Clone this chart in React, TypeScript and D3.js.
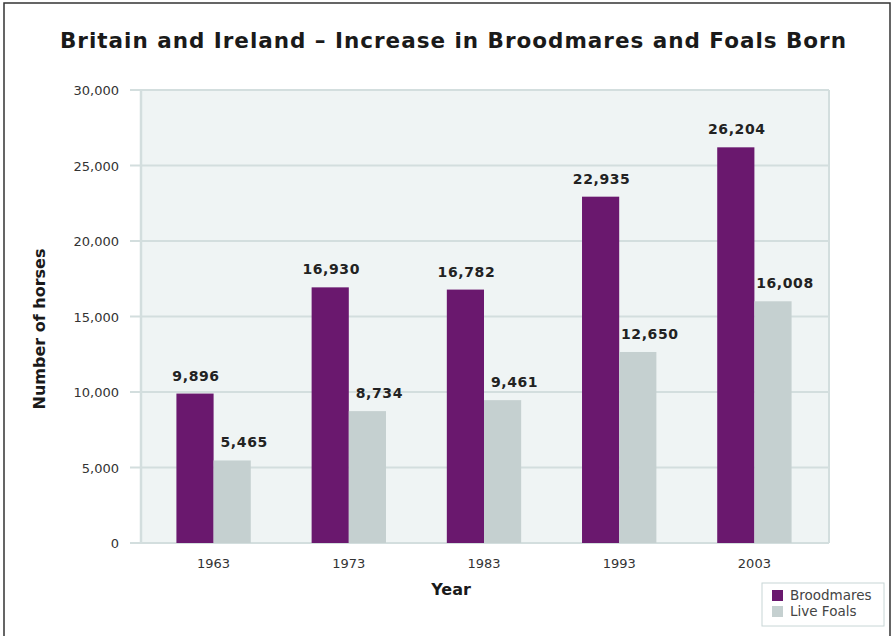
import React from "react";
import { scaleBand, scaleLinear, format } from "d3";

const years = ["1963", "1973", "1983", "1993", "2003"];
const broodmares = [9896, 16930, 16782, 22935, 26204];
const liveFoals = [5465, 8734, 9461, 12650, 16008];
const yTicks = [0, 5000, 10000, 15000, 20000, 25000, 30000];
const seriesNames = ["Broodmares", "Live Foals"];

const width = 892;
const height = 636;
const plotLeft = 141;
const plotRight = 829;
const plotTop = 90;
const plotBottom = 543;
const colors = ["#6a186e", "#c5d0d0"];
const labelShift = [1, 12];
const font = "'DejaVu Sans', Verdana, sans-serif";

export default function App() {
  const x = scaleBand<string>()
    .domain(years)
    .range([146, 822])
    .paddingInner(0.45)
    .paddingOuter(0.225);

  const sub = scaleBand<string>()
    .domain(seriesNames)
    .range([0, x.bandwidth()]);

  const y = scaleLinear().domain([0, 30000]).range([plotBottom, plotTop]);
  const fmt = format(",");

  const series = [broodmares, liveFoals];

  return (
    <div style={{ position: "absolute", left: 0, top: 0 }}>
      <svg width={width} height={height} style={{ display: "block" }} fontFamily={font}>
        <rect x={0} y={0} width={width} height={height} fill="#fff" />
        <rect x={4} y={3} width={886} height={650} fill="none" stroke="#333" strokeWidth={1.5} />

        <text
          x={60}
          y={48}
          fontSize={21.5}
          fontWeight="bold"
          fill="#1a1a1a"
          textLength={786}
          lengthAdjust="spacing"
        >
          Britain and Ireland – Increase in Broodmares and Foals Born
        </text>

        {/* plot background */}
        <rect x={plotLeft} y={plotTop} width={plotRight - plotLeft} height={plotBottom - plotTop} fill="#eff4f4" />

        {/* grid lines and ticks */}
        {yTicks.map((t) => (
          <g key={t}>
            <line x1={130} x2={plotRight} y1={y(t)} y2={y(t)} stroke="#d3dede" strokeWidth={2} />
            <text x={119} y={y(t) + 5} textAnchor="end" fontSize={13} fill="#333">
              {fmt(t)}
            </text>
          </g>
        ))}
        <line x1={plotLeft} x2={plotLeft} y1={plotTop} y2={plotBottom + 1} stroke="#d3dede" strokeWidth={2.5} />
        <line x1={plotRight} x2={plotRight} y1={plotTop} y2={plotBottom} stroke="#d3dede" strokeWidth={2} />

        {/* bars */}
        {years.map((yr, i) => (
          <g key={yr} transform={`translate(${x(yr)},0)`}>
            {series.map((s, j) => (
              <g key={j}>
                <rect
                  x={sub(seriesNames[j])}
                  y={y(s[i])}
                  width={sub.bandwidth()}
                  height={y(0) - y(s[i])}
                  fill={colors[j]}
                />
                <text
                  x={(sub(seriesNames[j]) as number) + sub.bandwidth() / 2 + labelShift[j]}
                  y={y(s[i]) - 13}
                  textAnchor="middle"
                  fontSize={14}
                  fontWeight="bold"
                  letterSpacing={0.6}
                  fill="#222"
                >
                  {fmt(s[i])}
                </text>
              </g>
            ))}
            <text x={x.bandwidth() / 2} y={568} textAnchor="middle" fontSize={13} fill="#333">
              {yr}
            </text>
          </g>
        ))}

        {/* axis titles */}
        <text x={451} y={595} textAnchor="middle" fontSize={16} fontWeight="bold" fill="#1a1a1a">
          Year
        </text>
        <text
          transform={`translate(45,${329}) rotate(-90)`}
          textAnchor="middle"
          fontSize={16}
          fontWeight="bold"
          fill="#1a1a1a"
        >
          Number of horses
        </text>

        {/* legend */}
        <rect x={762} y={583} width={122} height={43} fill="#fff" stroke="#c8d6d6" strokeWidth={1} />
        {seriesNames.map((n, j) => (
          <g key={n} transform={`translate(772,${590 + j * 16})`}>
            <rect width={11} height={11} fill={colors[j]} />
            <text x={18} y={10} fontSize={13.5} fill="#444">
              {n}
            </text>
          </g>
        ))}
      </svg>
    </div>
  );
}
